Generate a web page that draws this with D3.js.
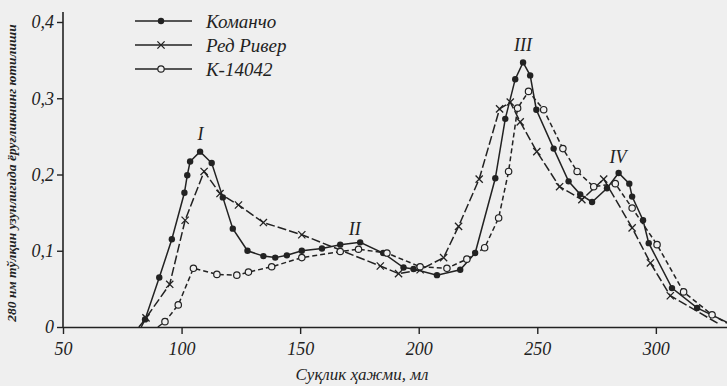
<!DOCTYPE html>
<html><head><meta charset="utf-8">
<script src="https://cdn.jsdelivr.net/npm/d3@7"></script>
<style>
html,body{margin:0;padding:0;background:#efefef;}
svg{display:block;}
</style></head><body>
<svg id="c" width="727" height="386"></svg>
<script>
const seriesNames = ["Команчо", "Ред Ривер", "К-14042"];
const komanchoX = [82, 84.6, 90.6, 95.9, 101.2, 102.4, 103.6, 107.8, 112.7, 117.4, 121.6, 127.8, 134.5, 139.5, 144.4, 150.7, 159.2, 166.9, 175.3, 185, 193.6, 197.8, 207.7, 217.5, 223.8, 232.3, 236.5, 240.7, 244, 247, 249.6, 256.9, 263.2, 268.1, 273.1, 279.4, 284.3, 288.8, 290, 294.6, 297, 306.8, 317.4, 330];
const komanchoY = [0, 0.010, 0.065, 0.115, 0.176, 0.199, 0.217, 0.230, 0.215, 0.170, 0.129, 0.100, 0.093, 0.091, 0.094, 0.100, 0.103, 0.108, 0.111, 0.097, 0.078, 0.076, 0.068, 0.075, 0.097, 0.195, 0.273, 0.325, 0.347, 0.330, 0.285, 0.234, 0.191, 0.174, 0.164, 0.182, 0.202, 0.188, 0.171, 0.140, 0.110, 0.051, 0.025, 0.006];
const redX = [83, 85, 95, 101.5, 109.5, 116.2, 124, 134.5, 150.7, 183.8, 191.5, 200.6, 210.5, 216.8, 225.5, 234.1, 238.6, 242.8, 249.8, 259.4, 268.8, 278, 290, 297.7, 306.1, 326];
const redY = [0, 0.012, 0.056, 0.140, 0.204, 0.175, 0.160, 0.137, 0.121, 0.080, 0.070, 0.075, 0.091, 0.132, 0.194, 0.286, 0.295, 0.269, 0.230, 0.184, 0.167, 0.194, 0.130, 0.084, 0.041, 0.005];
const kX = [90, 93, 98.6, 105, 114.9, 123.3, 128.2, 138, 150.7, 166.9, 174.6, 186.6, 200.6, 211.9, 220.3, 227.8, 233.7, 237.9, 241.7, 246.3, 252.7, 260.8, 266.8, 273.8, 282.9, 290, 300.5, 311.7, 323.7, 330];
const kY = [0, 0.007, 0.029, 0.077, 0.069, 0.068, 0.072, 0.079, 0.091, 0.099, 0.102, 0.097, 0.079, 0.077, 0.089, 0.104, 0.143, 0.204, 0.287, 0.309, 0.285, 0.234, 0.204, 0.184, 0.188, 0.156, 0.108, 0.046, 0.016, 0.005];
const xTicks = [50, 100, 150, 200, 250, 300];
const yTicks = [0, 0.1, 0.2, 0.3, 0.4];
const peakLabels = ["I", "II", "III", "IV"];
const peakX = [108, 173, 244, 284];
const peakY = [0.245, 0.121, 0.362, 0.215];
const xTitle = "Суқлик ҳажми, мл";
const yTitle = "280 нм тўлқин узунлигида ёруғликнинг ютилиши";

const FONT = "font-family:'Liberation Serif','Times New Roman','DejaVu Serif',serif;font-style:italic;";
const svg = d3.select("#c");
const x = d3.scaleLinear().domain([50, 330]).range([63, 727]);
const y = d3.scaleLinear().domain([0, 0.4]).range([327, 22]);
const ink = "#222";

// axes
const fmt = d => d === 0 ? "0" : d3.format(".1f")(d).replace(".", ",");
const gx = svg.append("g").attr("transform", `translate(0,${y(0)})`)
  .call(d3.axisBottom(x).tickValues(xTicks).tickSize(7).tickSizeOuter(0));
gx.attr("font-family", null);
gx.select(".domain").attr("stroke", ink).attr("stroke-width", 1.6);
gx.selectAll(".tick line").attr("stroke", ink).attr("stroke-width", 1.4);
gx.selectAll(".tick text").attr("style", FONT + "font-size:18px;").attr("dy", "1.0em").attr("fill", ink);

const gy = svg.append("g").attr("transform", `translate(${x(50)},0)`)
  .call(d3.axisLeft(y).tickValues(yTicks).tickFormat(fmt).tickSize(6).tickSizeOuter(0));
gy.attr("font-family", null);
gy.select(".domain").attr("stroke", ink).attr("stroke-width", 1.6).attr("d", `M0,${y(0)}V12`);
gy.selectAll(".tick line").attr("stroke", ink).attr("stroke-width", 1.4);
gy.selectAll(".tick text").attr("style", FONT + "font-size:18px;").attr("x", -9).attr("fill", ink);

svg.append("text").attr("x", 362).attr("y", 380).attr("text-anchor", "middle")
  .attr("style", FONT + "font-size:17px;").attr("fill", ink).text(xTitle);
svg.append("text").attr("transform", "translate(16,173) rotate(-90)").attr("text-anchor", "middle")
  .attr("style", FONT + "font-size:13.5px;font-weight:bold;").attr("fill", ink).text(yTitle);

// series
const series = [
  {name: seriesNames[0], xs: komanchoX, ys: komanchoY, dash: null, mark: "dot"},
  {name: seriesNames[1], xs: redX, ys: redY, dash: "9,3", mark: "cross"},
  {name: seriesNames[2], xs: kX, ys: kY, dash: "5,3", mark: "circle"}
];
const line = d3.line().x(d => x(d[0])).y(d => y(d[1]));

function drawMark(g, kind, cx, cy) {
  if (kind === "dot") {
    g.append("circle").attr("cx", cx).attr("cy", cy).attr("r", 3.2).attr("fill", ink);
  } else if (kind === "cross") {
    const s = 3.6;
    g.append("path").attr("d", `M${cx-s},${cy-s}L${cx+s},${cy+s}M${cx-s},${cy+s}L${cx+s},${cy-s}`)
      .attr("stroke", ink).attr("stroke-width", 1.3).attr("fill", "none");
  } else {
    g.append("circle").attr("cx", cx).attr("cy", cy).attr("r", 3.2)
      .attr("fill", "#efefef").attr("stroke", ink).attr("stroke-width", 1.2);
  }
}

series.forEach(s => {
  const pts = s.xs.map((v, i) => [v, s.ys[i]]);
  svg.append("path").datum(pts).attr("d", line).attr("fill", "none")
    .attr("stroke", ink).attr("stroke-width", 1.5)
    .attr("stroke-dasharray", s.dash);
  const g = svg.append("g");
  pts.forEach((p, i) => {
    if (i === 0 || i === pts.length - 1) return;
    drawMark(g, s.mark, x(p[0]), y(p[1]));
  });
});

// peak labels
peakLabels.forEach((t, i) => {
  svg.append("text").attr("x", x(peakX[i])).attr("y", y(peakY[i])).attr("text-anchor", "middle")
    .attr("style", FONT + "font-size:18px;").attr("fill", ink).text(t);
});

// legend
const legY = [21, 45, 69];
series.forEach((s, i) => {
  svg.append("line").attr("x1", 135).attr("x2", 192).attr("y1", legY[i]).attr("y2", legY[i])
    .attr("stroke", ink).attr("stroke-width", 1.4);
  drawMark(svg, s.mark, 161, legY[i]);
  svg.append("text").attr("x", 206).attr("y", legY[i]).attr("dy", "0.35em")
    .attr("style", FONT + "font-size:19px;").attr("fill", ink).text(s.name);
});
</script>
</body></html>
